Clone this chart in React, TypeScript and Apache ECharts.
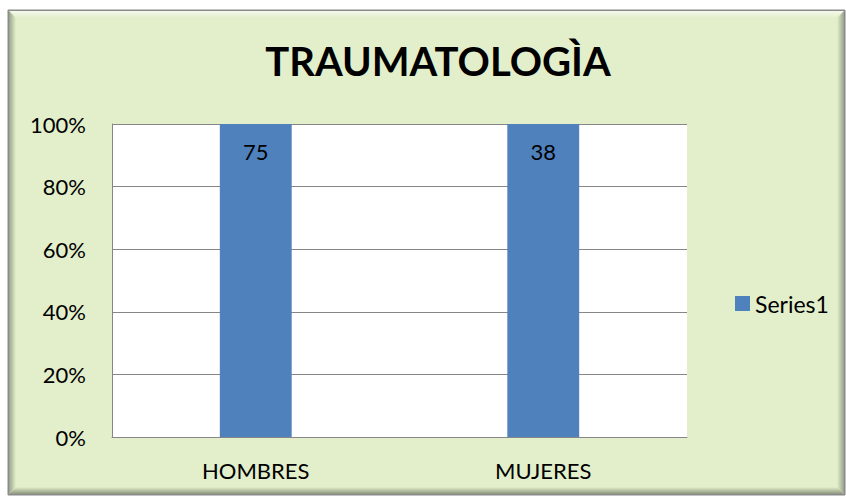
import React, { useEffect, useRef } from "react";
import * as echarts from "echarts";

const chartTitle = "TRAUMATOLOGÌA";
const categories = ["HOMBRES", "MUJERES"];
const seriesName = "Series1";
const values = [75, 38];
const yMin = 0;
const yMax = 100;
const yInterval = 20;

const FILL = "#E3EFCB";
const SHADE = "#8E9783";

export default function App() {
  const ref = useRef<HTMLDivElement>(null);

  useEffect(() => {
    if (!ref.current) return;
    const chart = echarts.init(ref.current, null, { renderer: "svg" });

    // 100% stacked: each category holds a single series, so its share is the whole column
    const shares = values.map((v) => (v / v) * 100);

    const X0 = 8, Y0 = 10, X1 = 845, Y1 = 495, B = 8;
    const lin = (x0: number, y0: number, x1: number, y1: number, a: string, b: string) =>
      new echarts.graphic.LinearGradient(x0, y0, x1, y1, [
        { offset: 0, color: a },
        { offset: 1, color: b },
      ]);

    chart.setOption({
      animation: false,
      backgroundColor: "#ffffff",
      textStyle: { fontFamily: "Lato" },
      graphic: [
        {
          type: "rect",
          z: -10,
          silent: true,
          shape: { x: X0, y: Y0, width: X1 - X0, height: Y1 - Y0 },
          style: { fill: FILL, stroke: "#8a8a8a", lineWidth: 1 },
        },
        {
          type: "polygon",
          z: -9,
          silent: true,
          shape: { points: [[X0, Y0], [X1, Y0], [X1 - B, Y0 + B], [X0 + B, Y0 + B]] },
          style: { fill: lin(0, 0, 0, 1, "#f6faee", FILL) },
        },
        {
          type: "polygon",
          z: -9,
          silent: true,
          shape: { points: [[X0, Y0], [X0 + B, Y0 + B], [X0 + B, Y1 - B], [X0, Y1]] },
          style: { fill: lin(0, 0, 1, 0, SHADE, FILL) },
        },
        {
          type: "polygon",
          z: -9,
          silent: true,
          shape: { points: [[X1, Y0], [X1, Y1], [X1 - B, Y1 - B], [X1 - B, Y0 + B]] },
          style: { fill: lin(0, 0, 1, 0, FILL, SHADE) },
        },
        {
          type: "polygon",
          z: -9,
          silent: true,
          shape: { points: [[X0, Y1], [X1, Y1], [X1 - B, Y1 - B], [X0 + B, Y1 - B]] },
          style: { fill: lin(0, 0, 0, 1, FILL, "#7f8873") },
        },
        {
          type: "rect",
          z: -8,
          silent: true,
          shape: { x: X0 + 0.5, y: Y0 + 0.5, width: X1 - X0 - 1, height: Y1 - Y0 - 1 },
          style: { fill: "none", stroke: "#8a8a8a", lineWidth: 1 },
        },
      ],
      title: {
        text: chartTitle,
        left: 433,
        textAlign: "center",
        top: 36,
        textStyle: {
          fontFamily: "Lato",
          fontWeight: "bold",
          fontSize: 40,
          color: "#000000",
        },
      },
      legend: {
        data: [seriesName],
        left: 730,
        top: 287,
        itemWidth: 15,
        itemHeight: 15,
        icon: "rect",
        textStyle: { fontFamily: "Lato", fontSize: 23, color: "#000000", lineHeight: 22 },
      },
      grid: {
        left: 112,
        right: 159,
        top: 124,
        bottom: 63,
        show: true,
        backgroundColor: "#ffffff",
        borderWidth: 0,
        containLabel: false,
      },
      xAxis: {
        type: "category",
        data: categories,
        axisLine: { show: true, lineStyle: { color: "#868686", width: 1 } },
        axisTick: { show: false },
        axisLabel: { fontFamily: "Lato", fontSize: 22, color: "#000000", margin: 22 },
      },
      yAxis: {
        type: "value",
        min: yMin,
        max: yMax,
        interval: yInterval,
        axisLine: { show: true, lineStyle: { color: "#868686", width: 1 } },
        axisTick: { show: false },
        splitLine: { show: true, lineStyle: { color: "#868686", width: 1 } },
        axisLabel: {
          fontFamily: "Lato",
          fontSize: 22,
          color: "#000000",
          margin: 26,
          formatter: "{value}%",
        },
      },
      series: [
        {
          name: seriesName,
          type: "bar",
          stack: "total",
          data: shares,
          barWidth: "25%",
          itemStyle: { color: "#4F81BD" },
          label: {
            show: true,
            position: "insideTop",
            distance: 16,
            fontFamily: "Lato",
            fontSize: 22,
            color: "#000000",
            formatter: (p: any) => String(values[p.dataIndex]),
          },
        },
      ],
    });

    return () => chart.dispose();
  }, []);

  return (
    <div
      ref={ref}
      style={{ position: "absolute", left: 0, top: 0, width: 846, height: 500 }}
    />
  );
}
